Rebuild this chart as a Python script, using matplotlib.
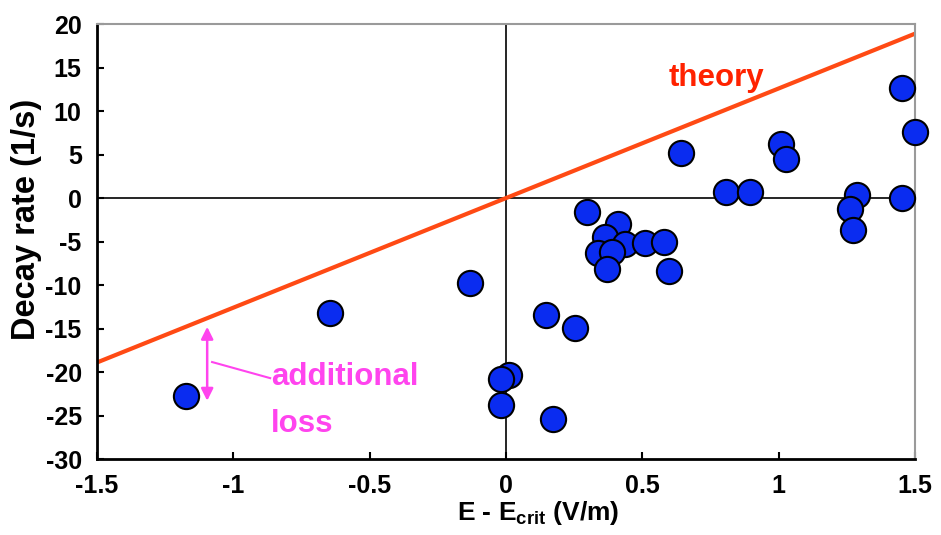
import matplotlib
matplotlib.use('Agg')
import matplotlib.pyplot as plt
import numpy as np

plt.rcParams['font.family'] = ['Liberation Sans', 'DejaVu Sans']
plt.rcParams['font.weight'] = 'bold'
plt.rcParams['axes.labelweight'] = 'bold'
plt.rcParams['axes.unicode_minus'] = False
plt.rcParams['mathtext.fontset'] = 'custom'
plt.rcParams['mathtext.rm'] = 'Liberation Sans:bold'
plt.rcParams['mathtext.bf'] = 'Liberation Sans:bold'

# measured decay rates vs field above critical
campo = [-1.173, -0.645, -0.132, 0.147, 0.253, 0.010, -0.018, -0.018, 0.174,
         0.296, 0.412, 0.363, 0.436, 0.510, 0.579, 0.339, 0.388, 0.369, 0.599,
         0.643, 0.807, 0.895, 1.008, 1.027, 1.286, 1.261, 1.271, 1.454, 1.454, 1.500]
taxa = [-22.8, -13.2, -9.8, -13.4, -14.9, -20.3, -20.8, -23.8, -25.4,
        -1.6, -3.0, -4.45, -5.3, -5.2, -5.0, -6.36, -6.25, -8.16, -8.4,
        5.2, 0.65, 0.65, 6.17, 4.45, 0.35, -1.3, -3.68, 0.04, 12.68, 7.55]

# linha teórica
inclinacao = 12.6
x_teoria = np.array([-1.5, 1.5])
y_teoria = inclinacao * x_teoria

fig = plt.figure(figsize=(9.41, 5.35), dpi=100)
ax = fig.add_axes([0.1031, 0.142, 0.8693, 0.813])

ax.axhline(0, color='black', lw=1.2, zorder=1)
ax.axvline(0, color='black', lw=1.2, zorder=1)
ax.plot(x_teoria, y_teoria, color='#ff4a14', lw=3, zorder=2)
ax.scatter(campo, taxa, s=330, color='#0a2cf0', edgecolors='black',
           linewidths=1.5, zorder=3, clip_on=False)

ax.text(0.77, 13.8, 'theory', color='#ff2200', fontsize=22.5, ha='center', va='center')

# seta de perda adicional
rosa = '#ff44ee'
ax.annotate('', xy=(-1.096, -14.8), xytext=(-1.096, -23.3),
            arrowprops=dict(arrowstyle='<|-|>', color=rosa, lw=1.8,
                            mutation_scale=18, shrinkA=0, shrinkB=0))
ax.plot([-1.078, -0.865], [-18.85, -20.7], color=rosa, lw=1.5)
ax.text(-0.862, -21.5, 'additional', color=rosa, fontsize=22.5,
        ha='left', va='baseline')
ax.text(-0.862, -26.9, 'loss', color=rosa, fontsize=22.5,
        ha='left', va='baseline')

ax.set_xlim(-1.5, 1.5)
ax.set_ylim(-30, 20)
ax.set_xticks([-1.5, -1, -0.5, 0, 0.5, 1, 1.5])
ax.set_xticklabels(['-1.5', '-1', '-0.5', '0', '0.5', '1', '1.5'])
ax.set_yticks(range(-30, 21, 5))
ax.tick_params(direction='in', length=5, width=1.5, labelsize=18)
ax.tick_params(axis='x', pad=11)
ax.tick_params(axis='y', pad=11)

for lado in ['left', 'bottom']:
    ax.spines[lado].set_linewidth(2)
    ax.spines[lado].set_color('black')
for lado in ['top', 'right']:
    ax.spines[lado].set_linewidth(1.5)
    ax.spines[lado].set_color('#9a9a9a')

ax.set_xlabel(r'E - E$_{\mathrm{crit}}$ (V/m)', fontsize=19)
ax.set_ylabel('Decay rate (1/s)', fontsize=23.5)
ax.xaxis.set_label_coords(0.539, -0.092)
ax.yaxis.set_label_coords(-0.067, 0.55)

fig.savefig('out.png', dpi=100)
